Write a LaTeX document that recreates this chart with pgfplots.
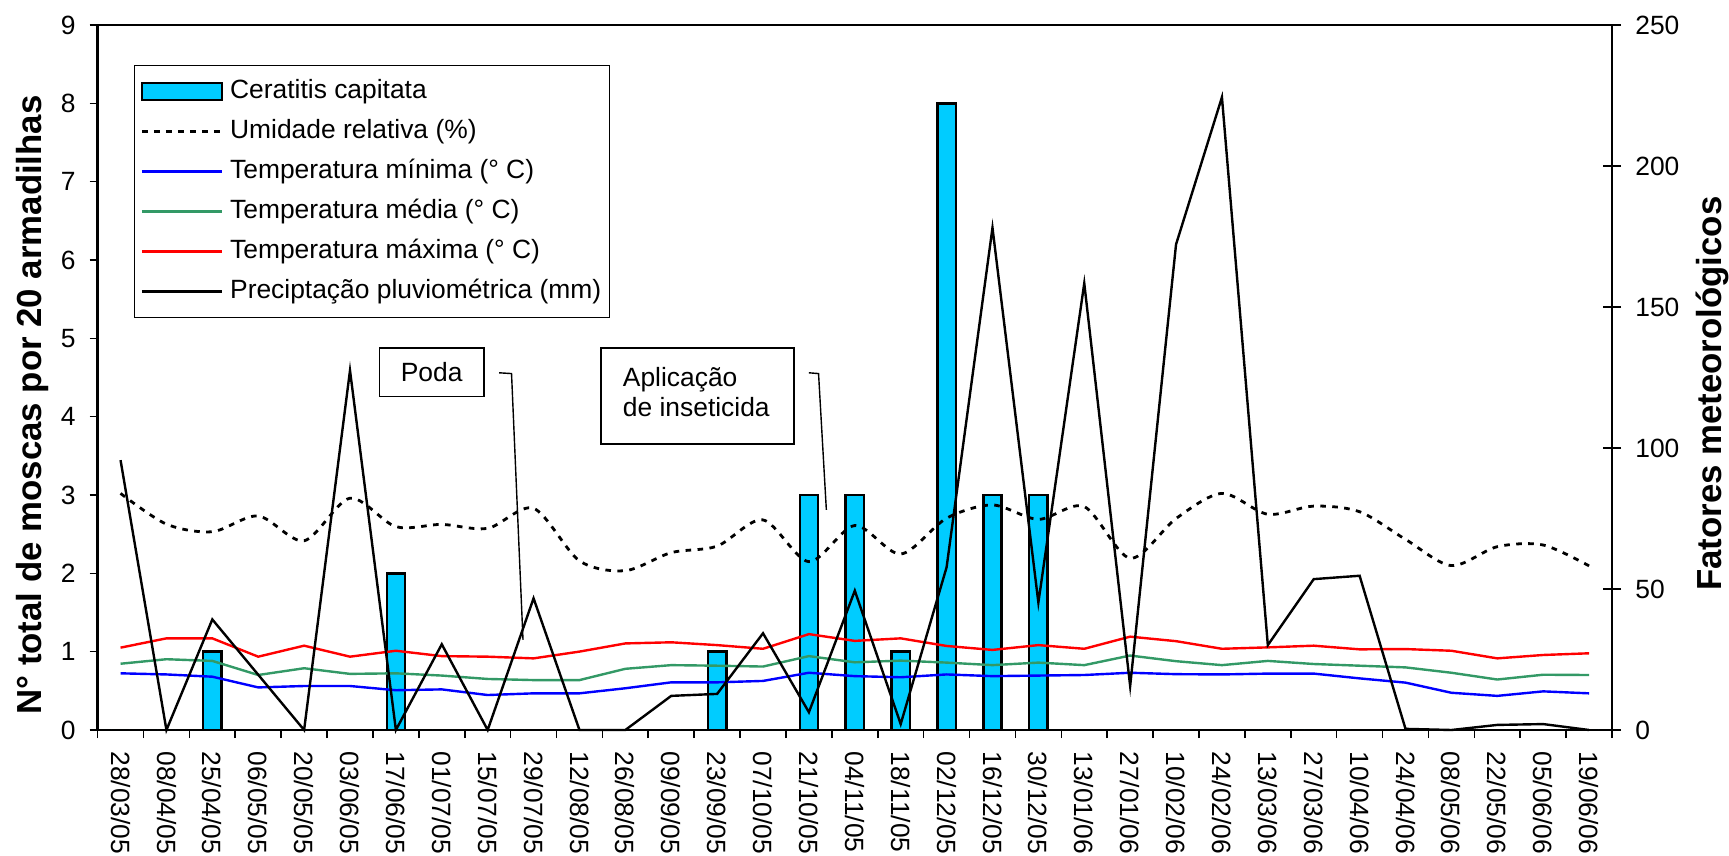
\documentclass[border=0pt]{standalone}
\usepackage{fontspec}
\setmainfont{Liberation Sans}
\usepackage{pgfplots}
\pgfplotsset{compat=1.18}
\usepackage{pgfplotstable}
\definecolor{barcyan}{RGB}{0,204,255}
\definecolor{tgreen}{RGB}{51,153,102}
\pgfplotsset{barlegend/.style={legend image code/.code={\draw[##1] (0pt,-2.1pt) rectangle (20pt,2.1pt);}}}

\pgfplotstableread{
i flies umid tmin tmed tmax prec
0 0 83.9 20.1 23.5 29.2 95.7
1 0 73.0 19.7 25.1 32.5 0
2 1 70.3 18.9 24.5 32.5 39.2
3 0 75.9 15.1 19.5 26.0 19.6
4 0 67.1 15.6 21.9 29.9 0
5 0 82.2 15.6 19.9 26.0 127.5
6 2 72.1 14.1 20.1 28.1 0
7 0 72.9 14.4 19.3 26.2 30.4
8 0 71.5 12.4 18.1 26.0 0
9 0 78.6 13.0 17.7 25.4 46.7
10 0 60.0 13.0 17.7 27.8 0
11 0 56.5 14.8 21.7 30.7 0
12 0 62.9 16.9 23.0 31.1 12.1
13 1 65.2 16.9 22.8 30.1 12.8
14 0 74.5 17.4 22.5 28.8 34.3
15 3 59.7 20.3 26.2 34.0 6.3
16 3 72.5 19.1 24.0 31.6 49.4
17 1 62.4 18.7 24.6 32.5 2.1
18 8 75.1 19.7 23.9 29.8 57.7
19 3 79.8 19.1 23.0 28.4 178.1
20 3 74.7 19.3 23.9 30.1 45.2
21 0 79.2 19.5 23.0 28.8 158.4
22 0 60.9 20.3 26.4 33.1 15.6
23 0 75.0 19.8 24.4 31.5 172.2
24 0 83.9 19.7 23.0 28.8 224.4
25 0 76.5 20.0 24.5 29.3 30.1
26 0 79.4 20.0 23.4 29.9 53.5
27 0 77.4 18.3 22.8 28.6 54.7
28 0 67.6 16.8 22.2 28.7 0.4
29 0 58.3 13.2 20.3 28.1 0
30 0 65.0 12.1 17.9 25.4 1.8
31 0 65.6 13.7 19.6 26.6 2.1
32 0 58.2 13.0 19.5 27.2 0
}\datatable

\begin{document}
\begin{tikzpicture}
\pgfplotsset{
  common/.style={
    scale only axis, width=378.6pt, height=176.25pt,
    xmin=-0.5, xmax=32.5, clip=false,
    tick label style={font=\fontsize{6.6}{7.9}\selectfont},
    /pgf/number format/assume math mode=true,
    tick style={line width=0.4pt, black},
  }
}
\begin{axis}[common, name=main,
  ymin=0, ymax=9, ytick={0,...,9},
  ytick pos=left, tick align=outside,
  xtick={0,...,32},
  xticklabels={28/03/05,08/04/05,25/04/05,06/05/05,20/05/05,03/06/05,17/06/05,01/07/05,15/07/05,29/07/05,12/08/05,26/08/05,09/09/05,23/09/05,07/10/05,21/10/05,04/11/05,18/11/05,02/12/05,16/12/05,30/12/05,13/01/06,27/01/06,10/02/06,24/02/06,13/03/06,27/03/06,10/04/06,24/04/06,08/05/06,22/05/06,05/06/06,19/06/06},
  xtick pos=bottom,
  major x tick style={draw=none},
  minor xtick={-0.5,0.5,...,32.5},
  minor tick length=2pt, major tick length=2pt,
  xticklabel style={rotate=-90, anchor=west, inner sep=0pt, xshift=3.2pt},
  axis line style={line width=0.6pt},
  ylabel={N° total de moscas por 20 armadilhas},
  ylabel style={font=\fontsize{8.7}{10}\selectfont\bfseries, at={(axis description cs:-0.0427,0.461)}, anchor=center},
]
\addplot[ybar, bar width=0.4, fill=barcyan, draw=black, line width=0.6pt] table[x=i, y=flies]{\datatable};
% annotations
\draw[line width=0.4pt] (axis cs:5.64,4.255) rectangle (axis cs:7.915,4.877);
\node[font=\fontsize{6.6}{7.9}\selectfont] at (axis cs:6.78,4.566) {Poda};
\draw[line width=0.35pt] (axis cs:8.25,4.56) -- (axis cs:8.52,4.55) -- (axis cs:8.77,1.15);
\draw[line width=0.4pt] (axis cs:10.47,3.65) rectangle (axis cs:14.67,4.873);
\node[font=\fontsize{6.6}{7.5}\selectfont, align=left, anchor=west, inner sep=0pt] at (axis cs:10.93,4.31) {Aplicação\\de inseticida};
\draw[line width=0.35pt] (axis cs:15.0,4.56) -- (axis cs:15.21,4.55) -- (axis cs:15.38,2.81);
\end{axis}

\begin{axis}[common,
  ymin=0, ymax=250, ytick={0,50,...,250},
  axis y line*=right, axis x line=none,
  tick align=center, major tick length=4.6pt,
  axis line style={line width=0.6pt},
  ylabel={Fatores meteorológicos},
  ylabel style={font=\fontsize{8.7}{10}\selectfont\bfseries, at={(axis description cs:1.066,0.477)}, anchor=center},
  legend image code/.code={\draw[#1] (0pt,0pt) -- (20pt,0pt);},
  legend cell align=left,
  legend style={at={(axis description cs:0.024,0.943)}, anchor=north west,
    draw=black, line width=0.3pt,
    font=\fontsize{6.6}{7.9}\selectfont,
    inner xsep=1.5pt, inner ysep=2.8pt, row sep=2.7pt,
    nodes={inner sep=0.5pt, text height=4.9pt, text depth=1.4pt, anchor=west},
    /tikz/every odd column/.append style={column sep=1.2pt}},
]
\addlegendimage{barlegend, fill=barcyan, draw=black, line width=0.6pt}
\addplot[black, mark=none, line width=0.7pt, dash pattern=on 1.4pt off 1.6pt, smooth] table[x=i, y=umid]{\datatable};
\addplot[blue, mark=none, line width=0.6pt] table[x=i, y=tmin]{\datatable};
\addplot[tgreen, mark=none, line width=0.6pt] table[x=i, y=tmed]{\datatable};
\addplot[red, mark=none, line width=0.6pt] table[x=i, y=tmax]{\datatable};
\addplot[black, mark=none, line width=0.6pt] table[x=i, y=prec]{\datatable};
\legend{Ceratitis capitata, Umidade relativa (\%), Temperatura mínima (° C), Temperatura média (° C), Temperatura máxima (° C), Preciptação pluviométrica (mm)}
\end{axis}
\pgfresetboundingbox
\path[use as bounding box] ([shift={(-24.4pt,-31.25pt)}]main.south west) rectangle ([shift={(29.25pt,6.25pt)}]main.north east);
\end{tikzpicture}
\end{document}
